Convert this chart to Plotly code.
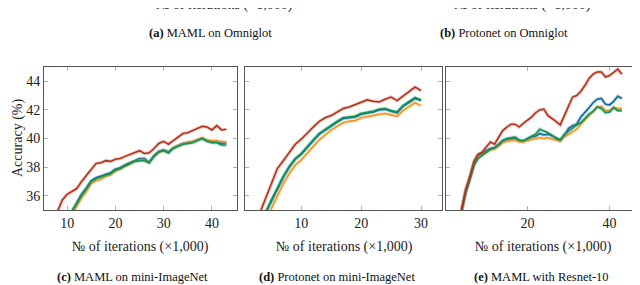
import plotly.graph_objects as go

# ---------------- data ----------------
# Panel (c) MAML on mini-ImageNet
c_x = list(range(8, 44))
c_red = [34.9, 35.7, 36.1, 36.3, 36.5, 37.0, 37.45, 37.85, 38.25, 38.3, 38.45, 38.4, 38.55, 38.6, 38.75, 38.9,
         39.05, 39.15, 38.95, 39.0, 39.3, 39.65, 39.8, 39.6, 39.85, 40.1, 40.35, 40.4, 40.55, 40.7, 40.85, 40.8,
         40.6, 40.9, 40.6, 40.65]
c_green = [33.0, 33.8, 34.4, 34.9, 35.5, 36.05, 36.5, 37.0, 37.2, 37.3, 37.45, 37.55, 37.8, 37.9, 38.1, 38.25,
           38.4, 38.45, 38.45, 38.3, 38.75, 39.05, 39.15, 39.0, 39.3, 39.45, 39.6, 39.65, 39.7, 39.85, 40.0, 39.8,
           39.7, 39.7, 39.55, 39.55]
c_blue = [33.0, 33.8, 34.4, 34.9, 35.55, 36.1, 36.55, 37.05, 37.25, 37.35, 37.5, 37.6, 37.85, 37.95, 38.15, 38.3,
          38.45, 38.6, 38.6, 38.35, 38.8, 39.1, 39.2, 39.05, 39.35, 39.5, 39.65, 39.7, 39.75, 39.9, 40.0, 39.85,
          39.75, 39.8, 39.65, 39.7]
c_orange = [32.8, 33.6, 34.2, 34.7, 35.3, 35.85, 36.3, 36.85, 37.05, 37.15, 37.35, 37.45, 37.7, 37.85, 38.05, 38.2,
            38.4, 38.5, 38.5, 38.3, 38.75, 39.05, 39.15, 39.0, 39.35, 39.5, 39.65, 39.75, 39.8, 39.95, 40.05, 39.9,
            39.85, 39.85, 39.75, 39.75]

# Panel (d) Protonet on mini-ImageNet
d_x = list(range(3, 31))
d_red = [34.7, 35.8, 36.9, 37.9, 38.45, 39.05, 39.6, 39.95, 40.4, 40.8, 41.2, 41.45, 41.6, 41.85, 42.1, 42.2,
         42.35, 42.55, 42.7, 42.6, 42.55, 42.75, 42.9, 42.65, 42.95, 43.25, 43.6, 43.35]
d_green = [33.5, 34.8, 35.7, 36.55, 37.35, 38.05, 38.6, 38.95, 39.45, 39.9, 40.35, 40.65, 40.95, 41.2, 41.45, 41.5,
           41.55, 41.75, 41.8, 41.9, 42.05, 42.1, 41.95, 41.85, 42.3, 42.6, 42.85, 42.7]
d_blue = [33.45, 34.75, 35.6, 36.45, 37.3, 38.0, 38.55, 38.9, 39.4, 39.85, 40.3, 40.6, 40.9, 41.15, 41.4, 41.45,
          41.5, 41.7, 41.75, 41.85, 42.0, 42.05, 41.9, 41.8, 42.25, 42.55, 42.8, 42.65]
d_orange = [33.0, 34.2, 35.1, 36.0, 36.85, 37.55, 38.15, 38.5, 39.0, 39.45, 39.9, 40.25, 40.6, 40.85, 41.1, 41.2,
            41.25, 41.45, 41.5, 41.6, 41.7, 41.75, 41.65, 41.55, 41.95, 42.25, 42.5, 42.3]

# Panel (e) MAML with Resnet-10
e_x = list(range(4, 44))
e_red = [35.0, 36.4, 37.3, 38.4, 38.9, 39.05, 39.4, 39.75, 39.6, 40.1, 40.55, 40.8, 41.0, 41.0, 40.8, 41.05,
         41.25, 41.5, 41.8, 42.0, 42.05, 41.6, 41.4, 41.2, 40.95, 41.6, 42.2, 42.9, 43.0, 43.3, 43.7, 44.2,
         44.5, 44.65, 44.65, 44.3, 44.4, 44.6, 44.85, 44.5]
e_blue = [35.0, 36.4, 37.3, 38.3, 38.85, 38.95, 39.15, 39.3, 39.35, 39.6, 39.85, 39.95, 40.0, 40.0, 39.85, 39.8,
          39.95, 40.1, 40.15, 40.35, 40.25, 40.3, 40.2, 40.05, 39.9, 40.2, 40.7, 40.9, 41.0, 41.5, 41.8, 42.15,
          42.5, 42.75, 42.8, 42.4, 42.35, 42.6, 42.95, 42.8]
e_green = [34.9, 36.2, 37.1, 38.1, 38.6, 38.8, 39.05, 39.25, 39.35, 39.55, 39.85, 40.0, 40.05, 40.1, 39.9, 39.85,
           40.0, 40.15, 40.3, 40.65, 40.55, 40.4, 40.2, 40.0, 39.9, 40.3, 40.5, 40.75, 40.95, 41.1, 41.4, 41.7,
           41.9, 42.2, 42.1, 41.8, 41.85, 42.15, 41.95, 41.95]
e_orange = [35.0, 36.3, 37.2, 38.2, 38.7, 38.85, 39.05, 39.2, 39.25, 39.5, 39.7, 39.8, 39.85, 39.9, 39.75, 39.75,
            39.85, 39.95, 40.0, 40.05, 40.0, 40.05, 39.95, 39.85, 39.8, 40.1, 40.3, 40.5, 40.65, 41.0, 41.3, 41.65,
            41.95, 42.2, 42.25, 41.95, 41.95, 42.2, 42.1, 42.1]

x_ticks_c = [10, 20, 30, 40]
x_ticks_d = [10, 20, 30]
x_ticks_e = [20, 40]
y_ticks = [36, 38, 40, 42, 44]

x_title = "№ of iterations (×1,000)"
captions_bottom = ["<b>(c)</b> MAML on mini-ImageNet", "<b>(d)</b> Protonet on mini-ImageNet",
                   "<b>(e)</b> MAML with Resnet-10"]
captions_top = ["<b>(a)</b> MAML on Omniglot", "<b>(b)</b> Protonet on Omniglot"]

# ---------------- styling ----------------
BLUE = "#0F68A0"
ORANGE = "#F5951F"
GREEN = "#10925A"
RED = "#B5321A"
FONT = "Liberation Serif"
W, H = 640, 285

fig = go.Figure()

panels = [
    ("x", "y", c_x, [c_blue, c_orange, c_green, c_red]),
    ("x2", "y2", d_x, [d_blue, d_orange, d_green, d_red]),
    ("x3", "y3", e_x, [e_blue, e_orange, e_green, e_red]),
]
colors = [BLUE, ORANGE, GREEN, RED]
for xa, ya, xs, series in panels:
    for ys, col in zip(series, colors):
        fig.add_trace(go.Scatter(x=xs, y=ys, xaxis=xa, yaxis=ya, mode="lines",
                                 line=dict(color=col, width=3.5), opacity=0.25,
                                 showlegend=False, hoverinfo="skip"))
        fig.add_trace(go.Scatter(x=xs, y=ys, xaxis=xa, yaxis=ya, mode="lines",
                                 line=dict(color=col, width=1.6), showlegend=False))

def px_x(p):
    return p / W

def px_y(p):
    return 1 - p / H

ydom = [px_y(202), px_y(59)]
dom_c = [px_x(36), px_x(229)]
dom_d = [px_x(237), px_x(434)]
dom_e = [px_x(438), px_x(632)]

axis_common = dict(showline=True, linecolor="#555555", linewidth=1, mirror="allticks",
                   ticks="inside", ticklen=4, tickcolor="#B0B0B0", tickwidth=1,
                   showgrid=False, zeroline=False,
                   tickfont=dict(family=FONT, size=14, color="#222222"))

fig.update_layout(
    width=W, height=H, margin=dict(l=0, r=0, t=0, b=0),
    paper_bgcolor="white", plot_bgcolor="white",
    xaxis=dict(domain=dom_c, range=[5.2, 45.2], tickvals=x_ticks_c, anchor="y", **axis_common),
    xaxis2=dict(domain=dom_d, range=[0.6, 33.5], tickvals=x_ticks_d, anchor="y2", **axis_common),
    xaxis3=dict(domain=dom_e, range=[0.2, 47.4], tickvals=x_ticks_e, anchor="y3", **axis_common),
    yaxis=dict(domain=ydom, range=[35, 45], tickvals=y_ticks, anchor="x", **axis_common),
    yaxis2=dict(domain=ydom, range=[35, 45], tickvals=y_ticks, anchor="x2", showticklabels=False, **axis_common),
    yaxis3=dict(domain=ydom, range=[35, 45], tickvals=y_ticks, anchor="x3", showticklabels=False, **axis_common),
)

ann = []
# y title
ann.append(dict(text="Accuracy (%)", x=px_x(10), y=px_y(130), xref="paper", yref="paper",
                textangle=-90, showarrow=False, font=dict(family=FONT, size=14, color="#222222"),
                xanchor="center", yanchor="middle"))
# x titles
for cx in [132, 336, 535]:
    ann.append(dict(text=x_title, x=px_x(cx), y=px_y(239), xref="paper", yref="paper",
                    showarrow=False, font=dict(family=FONT, size=14, color="#222222"),
                    xanchor="center", yanchor="middle"))
# cut-off x titles of the upper row (partly outside the picture, as in the reference)
for cx in [216, 514]:
    ann.append(dict(text=x_title, x=px_x(cx), y=px_y(-3), xref="paper", yref="paper",
                    showarrow=False, font=dict(family=FONT, size=14, color="#222222"),
                    xanchor="center", yanchor="middle"))
# captions
for cx, t in zip([124, 329, 533], captions_bottom):
    ann.append(dict(text=t, x=px_x(cx), y=px_y(269), xref="paper", yref="paper",
                    showarrow=False, font=dict(family=FONT, size=12.5, color="#111111"),
                    xanchor="center", yanchor="middle"))
for cx, t in zip([202, 496], captions_top):
    ann.append(dict(text=t, x=px_x(cx), y=px_y(25), xref="paper", yref="paper",
                    showarrow=False, font=dict(family=FONT, size=12.5, color="#111111"),
                    xanchor="center", yanchor="middle"))
fig.update_layout(annotations=ann)

fig.write_html("out.html")
